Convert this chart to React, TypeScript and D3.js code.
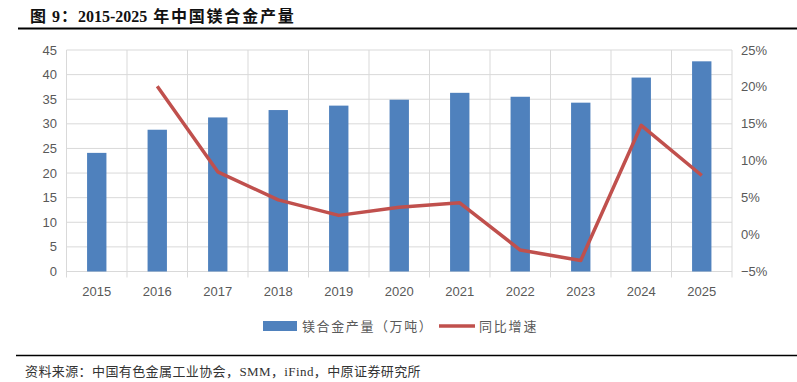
import React from "react";
import * as d3 from "d3";

const years = ["2015","2016","2017","2018","2019","2020","2021","2022","2023","2024","2025"];
const output = [24.1, 28.8, 31.3, 32.8, 33.7, 34.9, 36.3, 35.5, 34.3, 39.4, 42.7];
const growth: (number | null)[] = [null, 20.1, 8.5, 4.7, 2.6, 3.7, 4.3, -2.1, -3.5, 14.8, 8.0];
const leftTicks = [0,5,10,15,20,25,30,35,40,45];
const rightTicks = [-5,0,5,10,15,20,25];
const titleA = "图 9：";
const titleB = "2015-2025";
const titleC = " 年中国镁合金产量";
const source = "资料来源：中国有色金属工业协会，SMM，iFind，中原证券研究所";
const legendBar = "镁合金产量（万吨）";
const legendLine = "同比增速";

const W = 797, H = 382;
const left = 66.5, right = 732, top = 50, bottom = 271.5;
const BLUE = "#4F81BD", RED = "#C0504D", GRID = "#D9D9D9", TXT = "#595959";
const serifCJK = "'Liberation Serif','Noto Sans CJK SC',serif";
const sans = "'Liberation Sans',Arial,sans-serif";

export default function App() {
  const x = d3.scaleBand<string>().domain(years).range([left, right]).paddingInner(0.68).paddingOuter(0.34);
  const band = (right - left) / years.length;
  const xc = (y: string) => (x(y) as number) + x.bandwidth() / 2;
  const yL = d3.scaleLinear().domain([0, 45]).range([bottom, top]);
  const yR = d3.scaleLinear().domain([-5, 25]).range([bottom, top]);
  const line = d3.line<{ y: string; v: number | null }>()
    .defined(d => d.v !== null)
    .x(d => xc(d.y))
    .y(d => yR(d.v as number));
  const lineData = years.map((y, i) => ({ y, v: growth[i] }));

  return (
    <svg width={W} height={H} style={{ position: "absolute", left: 0, top: 0, background: "#fff" }}>
      <rect x={0} y={0} width={W} height={H} fill="#fff" />
      <text x={30} y={22} fontFamily={serifCJK} fontWeight="bold" fontSize={16} fill="#111">
        <tspan letterSpacing={1}>{titleA}</tspan>
        <tspan>{titleB}</tspan>
        <tspan letterSpacing={1.8}>{titleC}</tspan>
      </text>
      <line x1={18} x2={W} y1={28.5} y2={28.5} stroke="#000" strokeWidth={2} />

      {leftTicks.map(t => (
        <line key={"g" + t} x1={left} x2={right} y1={yL(t)} y2={yL(t)} stroke={GRID} strokeWidth={1} />
      ))}
      {d3.range(years.length + 1).map(i => (
        <line key={"v" + i} x1={left + i * band} x2={left + i * band} y1={top} y2={bottom + 6} stroke={GRID} strokeWidth={1} />
      ))}
      <line x1={left} x2={right} y1={bottom} y2={bottom} stroke={GRID} strokeWidth={1} />

      {years.map((y, i) => (
        <rect key={"b" + y} x={x(y)} y={yL(output[i])} width={x.bandwidth()} height={bottom - yL(output[i])} fill={BLUE} />
      ))}
      <path d={line(lineData) || ""} fill="none" stroke={RED} strokeWidth={3.5} strokeLinejoin="round" />

      {leftTicks.map(t => (
        <text key={"l" + t} x={57} y={yL(t)} dy="0.35em" textAnchor="end" fontFamily={sans} fontSize={13} fill={TXT}>{t}</text>
      ))}
      {rightTicks.map(t => (
        <text key={"r" + t} x={741} y={yR(t)} dy="0.35em" textAnchor="start" fontFamily={sans} fontSize={13} fill={TXT}>{t < 0 ? "\u2212" + Math.abs(t) + "%" : t + "%"}</text>
      ))}
      {years.map(y => (
        <text key={"x" + y} x={xc(y)} y={296} textAnchor="middle" fontFamily={sans} fontSize={13} fill={TXT}>{y}</text>
      ))}

      <rect x={263} y={321} width={34} height={10} fill={BLUE} />
      <text x={302} y={331} fontFamily={serifCJK} fontSize={13} fill={TXT} letterSpacing={1.6}>{legendBar}</text>
      <line x1={439} x2={475} y1={326} y2={326} stroke={RED} strokeWidth={3.5} />
      <text x={479} y={331} fontFamily={serifCJK} fontSize={13} fill={TXT} letterSpacing={1.8}>{legendLine}</text>

      <line x1={16} x2={W} y1={355.5} y2={355.5} stroke="#000" strokeWidth={1.5} />
      <text x={25} y={376} fontFamily={serifCJK} fontSize={13} fill="#333" letterSpacing={0.4}>{source}</text>
    </svg>
  );
}
